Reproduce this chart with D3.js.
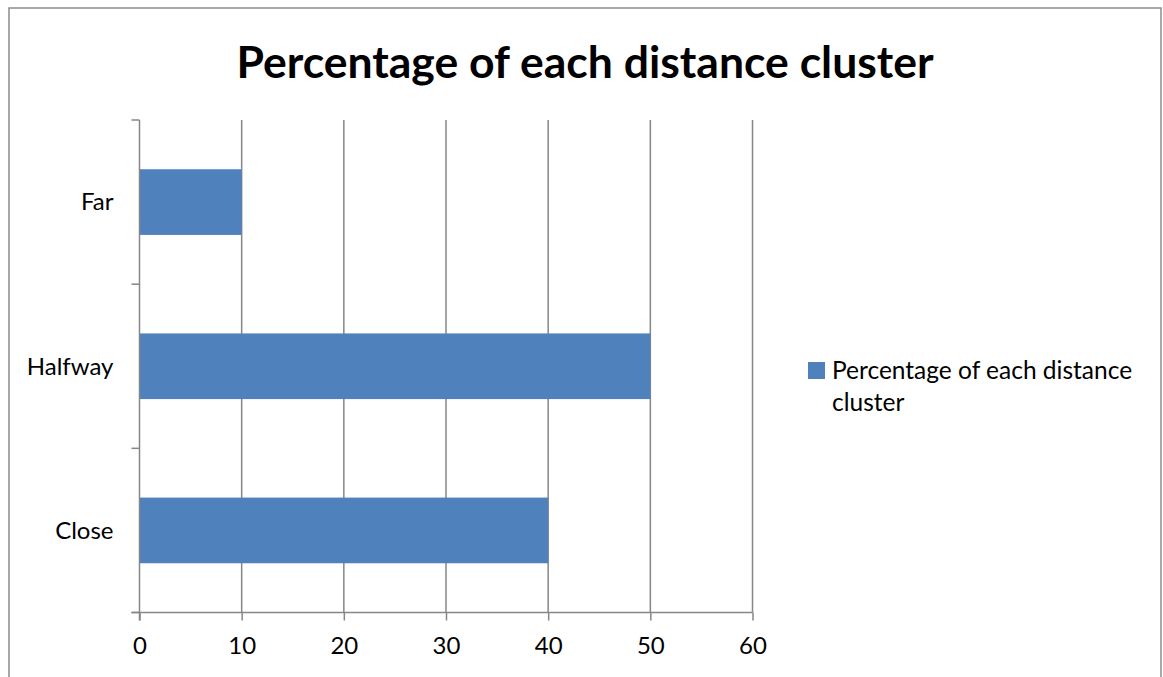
<!DOCTYPE html>
<html>
<head>
<meta charset="utf-8">
<script src="https://cdn.jsdelivr.net/npm/d3@7"></script>
<style>
  html, body { margin: 0; padding: 0; background: #fff; }
  svg { display: block; }
  text { font-family: Lato, "Open Sans", sans-serif; fill: #000; }
</style>
</head>
<body>
<svg id="chart" width="1163" height="677"></svg>
<script>
// Distance clusters and their share (%)
const categories = ["Close", "Halfway", "Far"];
const percentages = [40, 50, 10];
const xTicks = [0, 10, 20, 30, 40, 50, 60];
const titleText = "Percentage of each distance cluster";
const legendLines = ["Percentage of each distance", "cluster"];

const svg = d3.select("#chart");
const barColor = "#4F81BD";
const gridColor = "#868686";

// Outer chart frame
svg.append("rect")
  .attr("x", 9).attr("y", 8)
  .attr("width", 1152).attr("height", 690)
  .attr("fill", "#fff")
  .attr("stroke", "#8c8c8c").attr("stroke-width", 1.5);

// Title
svg.append("text")
  .attr("x", 585).attr("y", 78)
  .attr("text-anchor", "middle")
  .style("font-weight", "bold")
  .style("font-size", "44.5px")
  .text(titleText);

const plot = { left: 139.5, right: 752.5, top: 120, bottom: 612.5 };

const x = d3.scaleLinear().domain([0, 60]).range([plot.left, plot.right]);
// Categories listed bottom-to-top, as in the value axis order
const y = d3.scaleBand()
  .domain(categories.slice().reverse())
  .range([plot.top, plot.bottom])
  .paddingInner(0.6)
  .paddingOuter(0.3);

// Vertical gridlines
svg.append("g")
  .selectAll("line")
  .data(xTicks.slice(1))
  .join("line")
  .attr("x1", d => x(d)).attr("x2", d => x(d))
  .attr("y1", plot.top).attr("y2", plot.bottom)
  .attr("stroke", gridColor).attr("stroke-width", 1.5);

// Bars
svg.append("g")
  .selectAll("rect")
  .data(categories.map((c, i) => ({ c, v: percentages[i] })))
  .join("rect")
  .attr("x", x(0))
  .attr("y", d => y(d.c))
  .attr("width", d => x(d.v) - x(0))
  .attr("height", y.bandwidth())
  .attr("fill", barColor);

// Value axis along the bottom
const xAxis = svg.append("g")
  .attr("transform", `translate(0,${plot.bottom})`)
  .call(d3.axisBottom(x).tickValues(xTicks).tickSize(8).tickPadding(16));
xAxis.select(".domain").attr("stroke", gridColor).attr("stroke-width", 1.5)
  .attr("d", `M${plot.left - 8},0H${plot.right}`);
xAxis.selectAll(".tick line").attr("stroke", gridColor).attr("stroke-width", 1.5);
xAxis.selectAll(".tick text").style("font-size", "24px").attr("fill", "#000")
  .style("font-family", "Lato, 'Open Sans', sans-serif");

// Category axis on the left with ticks between bands
const boundaries = d3.range(categories.length + 1)
  .map(i => plot.top + i * (plot.bottom - plot.top) / categories.length);
const yAxis = svg.append("g");
yAxis.append("line")
  .attr("x1", plot.left).attr("x2", plot.left)
  .attr("y1", plot.top).attr("y2", plot.bottom + 8)
  .attr("stroke", gridColor).attr("stroke-width", 1.5);
yAxis.selectAll("line.tk")
  .data(boundaries)
  .join("line").attr("class", "tk")
  .attr("x1", plot.left - 8).attr("x2", plot.left)
  .attr("y1", d => d).attr("y2", d => d)
  .attr("stroke", gridColor).attr("stroke-width", 1.5);
yAxis.selectAll("text")
  .data(categories)
  .join("text")
  .attr("x", plot.left - 26)
  .attr("y", d => y(d) + y.bandwidth() / 2)
  .attr("dy", "0.35em")
  .attr("text-anchor", "end")
  .style("font-size", "24px")
  .text(d => d);

// Legend
const legend = svg.append("g").attr("transform", "translate(808,362)");
legend.append("rect").attr("width", 17).attr("height", 17).attr("fill", barColor);
legend.selectAll("text")
  .data(legendLines)
  .join("text")
  .attr("x", 24)
  .attr("y", (d, i) => 17 + i * 32)
  .style("font-size", "24.5px")
  .text(d => d);
</script>
</body>
</html>
